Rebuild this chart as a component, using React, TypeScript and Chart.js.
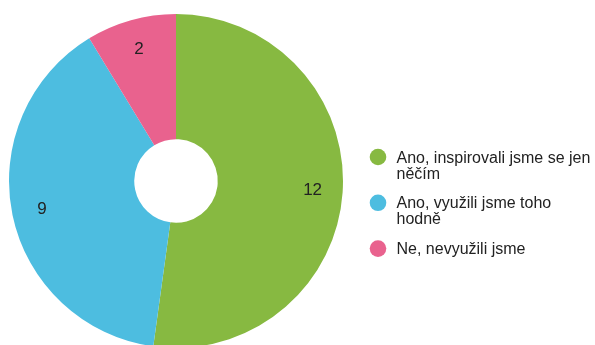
import React, { useEffect, useRef } from "react";
import { Chart, registerables } from "chart.js";

Chart.register(...registerables);

const categories: string[][] = [
  ["Ano, inspirovali jsme se jen", "něčím"],
  ["Ano, využili jsme toho", "hodně"],
  ["Ne, nevyužili jsme"],
];
const values: number[] = [12, 9, 2];
const colors: string[] = ["#87b941", "#4dbde0", "#e9628e"];

const FONT = '"Liberation Sans", Arial, sans-serif';

const labelsPlugin = {
  id: "sliceLabels",
  afterDatasetsDraw(chart: any) {
    const ctx = chart.ctx;
    const meta = chart.getDatasetMeta(0);
    ctx.save();
    ctx.font = `17px ${FONT}`;
    ctx.fillStyle = "#222";
    ctx.textAlign = "center";
    ctx.textBaseline = "middle";
    meta.data.forEach((arc: any, i: number) => {
      const { x, y, startAngle, endAngle, outerRadius } = arc.getProps(
        ["x", "y", "startAngle", "endAngle", "outerRadius"],
        true
      );
      const mid = (startAngle + endAngle) / 2;
      const r = outerRadius * 0.82;
      ctx.fillText(String(values[i]), x + Math.cos(mid) * r, y + Math.sin(mid) * r);
    });
    ctx.restore();
  },
};

const legendPlugin = {
  id: "sideLegend",
  afterDraw(chart: any) {
    const ctx = chart.ctx;
    const circleX = chart.chartArea.right + 35;
    const textX = circleX + 18.5;
    const startY = 157;
    const step = 45.8;
    const lineH = 16;
    ctx.save();
    ctx.font = `16px ${FONT}`;
    ctx.textAlign = "left";
    ctx.textBaseline = "alphabetic";
    categories.forEach((lines, i) => {
      const cy = startY + i * step;
      ctx.beginPath();
      ctx.arc(circleX, cy, 8.3, 0, Math.PI * 2);
      ctx.fillStyle = colors[i];
      ctx.fill();
      ctx.fillStyle = "#222";
      lines.forEach((t, j) => {
        ctx.fillText(t, textX, cy + 5.6 + j * lineH);
      });
    });
    ctx.restore();
  },
};

export default function App() {
  const ref = useRef<HTMLCanvasElement>(null);
  useEffect(() => {
    if (!ref.current) return;
    const chart = new Chart(ref.current, {
      type: "doughnut",
      data: {
        labels: categories.map((c) => c.join(" ")),
        datasets: [
          {
            data: values,
            backgroundColor: colors,
            borderWidth: 0,
          },
        ],
      },
      options: {
        animation: false,
        responsive: false,
        cutout: "25%",
        layout: { padding: { left: 9, top: 14, right: 252, bottom: 14 } },
        plugins: {
          legend: { display: false },
          tooltip: { enabled: false },
        },
      },
      plugins: [labelsPlugin, legendPlugin],
    });
    return () => chart.destroy();
  }, []);
  return (
    <div style={{ position: "fixed", left: 0, top: 0, width: 595, height: 345, overflow: "hidden", background: "#fff" }}>
      <canvas ref={ref} width={595} height={362} style={{ display: "block" }} />
    </div>
  );
}
